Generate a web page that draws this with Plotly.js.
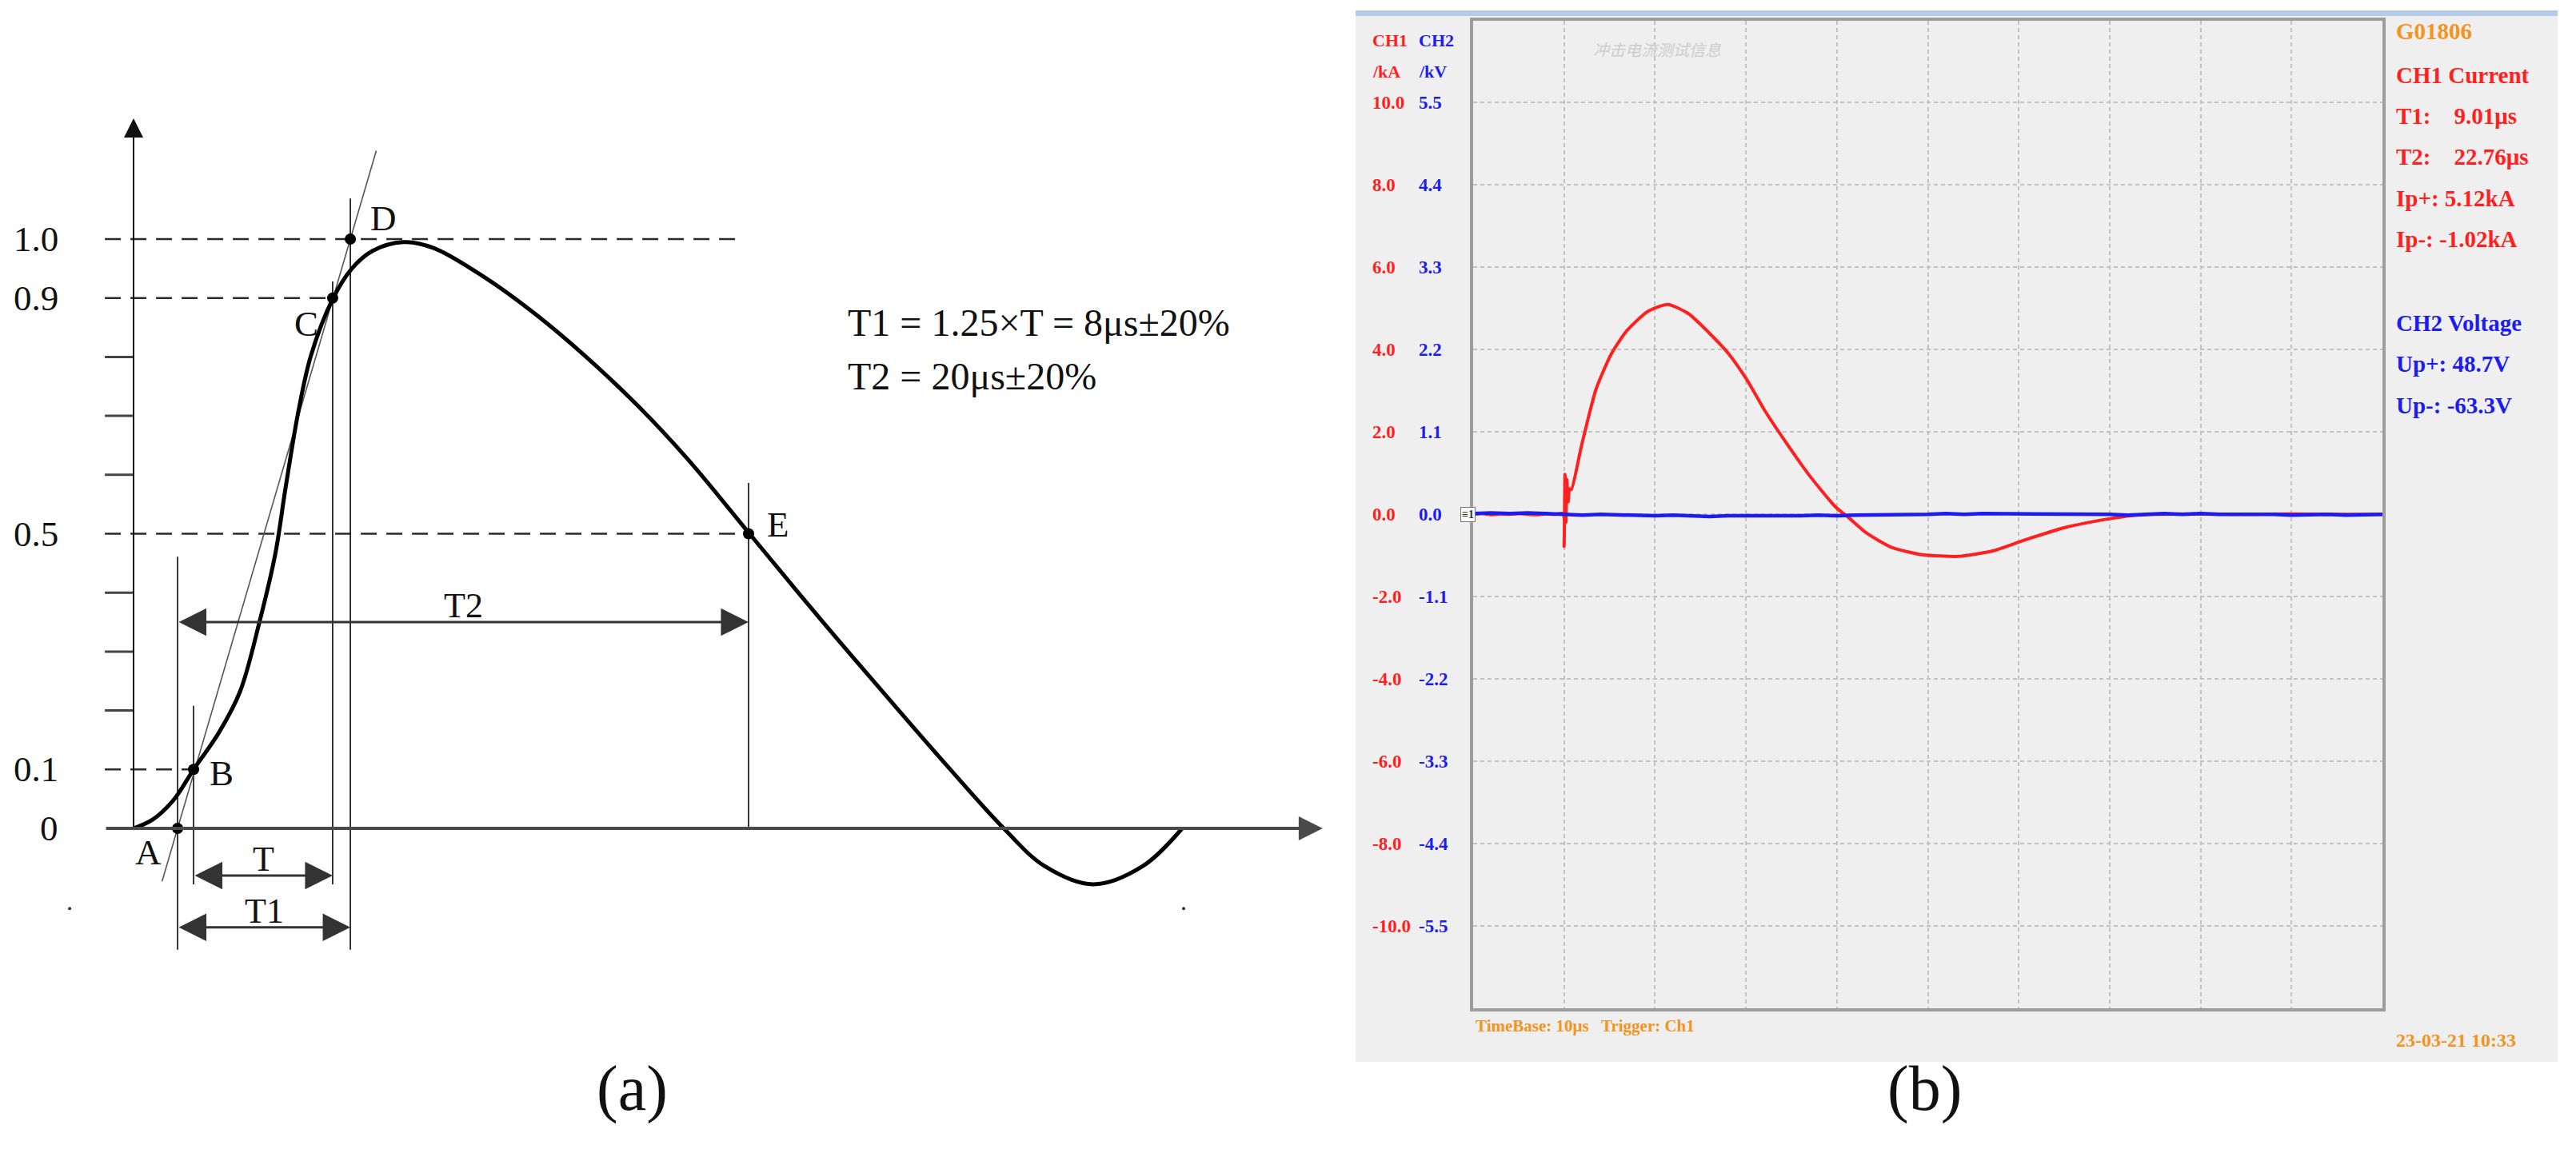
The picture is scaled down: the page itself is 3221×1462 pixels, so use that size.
<!DOCTYPE html>
<html><head><meta charset="utf-8">
<script src="https://cdn.plot.ly/plotly-3.0.1.min.js"></script>
<style>html,body{margin:0;padding:0;background:#fff}#chart{width:3221px;height:1462px}</style>
</head><body><div id="chart"></div>
<script>
// ---------- Panel (a): normalised impulse current waveform ----------
const waveT = [0,0.89,1.85,2.78,3.96,4.93,5.85,6.56,7.04,7.63,8.22,9.22,10.11,11.07,12.48,13.89,16.26,18.63,20.96,23.33,25.7,28.48,30.85,32.74,34.78,37.63,40.3,42.19,44.44,46.74,48.56];
const waveV = [0,0.015,0.048,0.1,0.163,0.232,0.353,0.465,0.578,0.707,0.803,0.898,0.95,0.98,0.995,0.985,0.935,0.872,0.8,0.718,0.625,0.502,0.397,0.315,0.228,0.108,0,-0.064,-0.095,-0.064,0];
const pointNames = ['A','B','C','D','E'];
const pointT = [2.04,2.78,9.22,10.04,28.48];
const pointV = [0,0.1,0.9,1.0,0.5];
const levelLabels = ['0','0.1','0.5','0.9','1.0'];
const levelValues = [0,0.1,0.5,0.9,1.0];
const dashedLevels = [1.0,0.9,0.5,0.1];
const dashedEndT = [28.19,9.22,28.48,2.70];
const minorTickValues = [0.2,0.3,0.4,0.6,0.7,0.8];
const tangentT = [1.32,11.24];
const tangentV = [-0.09,1.15];
const guideTop = [0.461,0.208,0.928,1.069,0.586];
const guideBottom = [-0.206,-0.095,-0.095,-0.206,0];
const dimNames = ['T2','T','T1'];
const dimFromT = [2.04,2.78,2.04];
const dimToT = [28.48,9.22,10.04];
const dimLevel = [0.35,-0.08,-0.168];
const strayT = [-2.96,48.63];
const strayV = [-0.136,-0.136];
const formulaLines = ['T1 = 1.25×T = 8μs±20%','T2 = 20μs±20%'];

// ---------- Panel (b): oscilloscope record ----------
const timeUs = [0,1,2,3,4,5,6,7,8,9,9.9,10.0,10.1,10.2,10.3,10.45,10.6,10.8,11.9,13.5,15.2,16.9,19.15,21.4,23.65,25.9,28.1,30.1,32.05,34.3,37.1,39.9,41.3,43.3,46.1,49.4,53.4,57.3,60.7,65.1,70.2,72.5,75,80,85,90,95,100];
const currentKA = [0,0.02,-0.01,0.01,0,0.02,0,-0.01,0.01,0,0.02,-0.78,0.97,-0.2,0.85,0.3,0.62,0.6,1.65,3.03,3.9,4.46,4.92,5.1,4.88,4.42,3.9,3.27,2.53,1.78,0.91,0.17,-0.08,-0.46,-0.81,-0.98,-1.02,-0.88,-0.62,-0.32,-0.1,-0.03,0,0.01,0,0.01,0,0];
const voltTimeUs = [0,2,4,6,8,10,12,14,16,18,20,22,24,26,28,30,32,34,36,38,40,42,44,46,48,50,52,54,56,58,60,62,64,66,68,70,72,74,76,78,80,82,84,86,88,90,92,94,96,98,100];
const voltageKV = [0.01,0.02,0.01,0.02,0.01,0,-0.01,0,-0.01,-0.02,-0.02,-0.01,-0.02,-0.03,-0.02,-0.02,-0.03,-0.02,-0.02,-0.01,-0.02,-0.01,-0.01,0,-0.01,0,0.01,0,0.01,0.01,0,0.01,0,0.01,0,0,-0.01,0,0.01,0,0.01,0,0,0.01,0,-0.01,0,0,-0.01,0,0];
const currentTickVals = [10,8,6,4,2,0,-2,-4,-6,-8,-10];
const currentTickText = ['10.0','8.0','6.0','4.0','2.0','0.0','-2.0','-4.0','-6.0','-8.0','-10.0'];
const voltageTickText = ['5.5','4.4','3.3','2.2','1.1','0.0','-1.1','-2.2','-3.3','-4.4','-5.5'];
const channelHeads = [['CH1','CH2'],['/kA','/kV']];
const readoutText = ['G01806','CH1 Current','T1:\u00a0\u00a0\u00a0 9.01μs','T2:\u00a0\u00a0\u00a0 22.76μs','Ip+: 5.12kA','Ip-: -1.02kA','CH2 Voltage','Up+: 48.7V','Up-: -63.3V'];
const readoutKind = ['id','ch1','ch1','ch1','ch1','ch1','ch2','ch2','ch2'];
const footerLeft = 'TimeBase: 10μs\u00a0\u00a0 Trigger: Ch1';
const footerRight = '23-03-21 10:33';
const watermark = '冲击电流测试信息';

// ---------- styling ----------
const W = 3221, H = 1462;
const SERIF = 'Liberation Serif, Times New Roman, serif';
const RED = '#ff1f1f', BLUE = '#1c1cf0', ORANGE = '#f39320';
const px = v => v / W, py = v => 1 - v / H;

const traces = [];
{
  const x = [], y = [];
  dashedLevels.forEach((v, i) => { x.push(-1.33, dashedEndT[i], null); y.push(v, v, null); });
  traces.push({x, y, xaxis:'x', yaxis:'y', mode:'lines', line:{color:'#2a2a2a', width:2.5, dash:'20px,12px'}, hoverinfo:'skip'});
}
{
  const x = [], y = [];
  minorTickValues.forEach(v => { x.push(-1.33, 0, null); y.push(v, v, null); });
  traces.push({x, y, xaxis:'x', yaxis:'y', mode:'lines', line:{color:'#444', width:3}, hoverinfo:'skip'});
}
{
  const x = [], y = [];
  pointT.forEach((t, i) => { x.push(t, t, null); y.push(guideBottom[i], guideTop[i], null); });
  traces.push({x, y, xaxis:'x', yaxis:'y', mode:'lines', line:{color:'#222', width:1.8}, hoverinfo:'skip'});
}
traces.push({x:tangentT, y:tangentV, xaxis:'x', yaxis:'y', mode:'lines', line:{color:'#555', width:1.6}, hoverinfo:'skip'});
traces.push({x:waveT, y:waveV, xaxis:'x', yaxis:'y', mode:'lines', line:{color:'#000', width:5, shape:'spline', smoothing:1}, hoverinfo:'skip'});
traces.push({x:pointT, y:pointV, xaxis:'x', yaxis:'y', mode:'markers', marker:{color:'#000', size:14}, hoverinfo:'skip'});
traces.push({x:strayT, y:strayV, xaxis:'x', yaxis:'y', mode:'markers', marker:{color:'#333', size:4}, hoverinfo:'skip'});

traces.push({x:timeUs, y:currentKA, xaxis:'x2', yaxis:'y2', mode:'lines', line:{color:RED, width:4, shape:'spline', smoothing:0.6}, hoverinfo:'skip'});
traces.push({x:voltTimeUs, y:voltageKV, xaxis:'x2', yaxis:'y3', mode:'lines', line:{color:BLUE, width:4.5}, hoverinfo:'skip'});

const ann = [];
ann.push({xref:'x', yref:'y', axref:'x', ayref:'y', x:0, y:1.205, ax:0, ay:0, text:'', showarrow:true, arrowhead:2, arrowsize:2.4, arrowwidth:2, arrowcolor:'#111', standoff:0});
ann.push({xref:'x', yref:'y', axref:'x', ayref:'y', x:55.07, y:0, ax:-1.33, ay:0, text:'', showarrow:true, arrowhead:2, arrowsize:1.5, arrowwidth:4, arrowcolor:'#4a4a4a', standoff:0});
levelLabels.forEach((t, i) => ann.push({xref:'x', yref:'y', x:-3.41, y:levelValues[i], xanchor:'right', yanchor:'middle', text:t, showarrow:false, font:{family:SERIF, size:45, color:'#111'}}));
const ptShift = {A:[-37,-30], B:[35,-5], C:[-33,-32], D:[41,26], E:[37,12]};
pointNames.forEach((n, i) => ann.push({xref:'x', yref:'y', x:pointT[i], y:pointV[i], xshift:ptShift[n][0], yshift:ptShift[n][1], text:n, showarrow:false, font:{family:SERIF, size:45, color:'#111'}}));
dimNames.forEach((n, i) => {
  ann.push({xref:'x', yref:'y', axref:'x', ayref:'y', x:dimToT[i], y:dimLevel[i], ax:dimFromT[i], ay:dimLevel[i], text:'', showarrow:true, arrowhead:2, arrowside:'end+start', arrowsize:2.3, arrowwidth:3, arrowcolor:'#333', standoff:0, startstandoff:0});
  ann.push({xref:'x', yref:'y', x:(dimFromT[i] + dimToT[i]) / 2, y:dimLevel[i], yanchor:'bottom', yshift:-6, text:n, showarrow:false, font:{family:SERIF, size:44, color:'#111'}});
});
formulaLines.forEach((t, i) => ann.push({xref:'paper', yref:'paper', x:px(1058), y:py(404 + i * 66.5), xanchor:'left', yanchor:'middle', text:t, showarrow:false, font:{family:SERIF, size:48, color:'#111'}}));
ann.push({xref:'paper', yref:'paper', x:px(744), y:py(1408), text:'(a)', showarrow:false, font:{family:SERIF, size:80, color:'#111'}});
ann.push({xref:'paper', yref:'paper', x:px(2455), y:py(1408), text:'(b)', showarrow:false, font:{family:SERIF, size:80, color:'#111'}});

const bold = {family:SERIF, weight:'bold'};
ann.push({xref:'paper', yref:'paper', x:px(1714), y:py(36), xanchor:'left', text:channelHeads[0][0], showarrow:false, font:{...bold, size:22, color:RED}});
ann.push({xref:'paper', yref:'paper', x:px(1772), y:py(36), xanchor:'left', text:channelHeads[0][1], showarrow:false, font:{...bold, size:22, color:BLUE}});
ann.push({xref:'paper', yref:'paper', x:px(1714), y:py(75), xanchor:'left', text:channelHeads[1][0], showarrow:false, font:{...bold, size:22, color:RED}});
ann.push({xref:'paper', yref:'paper', x:px(1772), y:py(75), xanchor:'left', text:channelHeads[1][1], showarrow:false, font:{...bold, size:22, color:BLUE}});
currentTickVals.forEach((v, i) => {
  ann.push({xref:'paper', yref:'y2', x:px(1714), y:v, xanchor:'left', yanchor:'middle', text:currentTickText[i], showarrow:false, font:{...bold, size:23, color:RED}});
  ann.push({xref:'paper', yref:'y2', x:px(1772), y:v, xanchor:'left', yanchor:'middle', text:voltageTickText[i], showarrow:false, font:{...bold, size:23, color:BLUE}});
});
ann.push({xref:'paper', yref:'y2', x:px(1835), y:0, xanchor:'center', yanchor:'middle', text:'≡1', showarrow:false, bgcolor:'#fafafa', bordercolor:'#777', borderwidth:1, borderpad:1, font:{...bold, size:14, color:'#333'}});
const readY = [39,94,145,196,248,299,404,455,507];
const kindColor = {id:ORANGE, ch1:RED, ch2:BLUE};
readoutText.forEach((t, i) => ann.push({xref:'paper', yref:'paper', x:px(2994), y:py(readY[i]), xanchor:'left', yanchor:'middle', text:t, showarrow:false, font:{...bold, size:29, color:kindColor[readoutKind[i]]}}));
ann.push({xref:'paper', yref:'paper', x:px(1843), y:py(1283), xanchor:'left', yanchor:'middle', text:footerLeft, showarrow:false, font:{...bold, size:21, color:ORANGE}});
ann.push({xref:'paper', yref:'paper', x:px(2994), y:py(1301), xanchor:'left', yanchor:'middle', text:footerRight, showarrow:false, font:{...bold, size:24, color:ORANGE}});
ann.push({xref:'paper', yref:'paper', x:px(1990), y:py(62), xanchor:'left', yanchor:'middle', text:watermark, showarrow:false, font:{family:'Noto Sans CJK SC', size:20, color:'#cdcdcd', style:'italic'}});

const shapes = [
  {type:'rect', xref:'paper', yref:'paper', x0:px(1695), x1:px(3198), y0:py(1328), y1:py(19), fillcolor:'#efefef', line:{width:0}, layer:'below'},
  {type:'rect', xref:'paper', yref:'paper', x0:px(1695), x1:px(3198), y0:py(20), y1:py(13), fillcolor:'#b3cce9', line:{width:0}, layer:'below'}
];

const hidden = {showgrid:false, zeroline:false, showticklabels:false, ticks:'', showline:false, fixedrange:true};
const layout = {
  width:W, height:H, margin:{l:0, r:0, t:0, b:0}, paper_bgcolor:'#ffffff', plot_bgcolor:'rgba(0,0,0,0)',
  showlegend:false,
  xaxis:{...hidden, domain:[0, 0.53], range:[-167/27, (0.53 * W - 167) / 27], autorange:false},
  yaxis:{...hidden, domain:[0, 1], range:[-0.57802, 1.40570], autorange:false},
  xaxis2:{domain:[px(1842), px(2979)], anchor:'y2', range:[0, 100], autorange:false, dtick:10, tick0:0,
          showgrid:true, gridcolor:'#c2c2c2', gridwidth:2, griddash:'5px,4px', zeroline:false, showticklabels:false, ticks:'',
          showline:true, mirror:true, linecolor:'#9d9d9d', linewidth:4},
  yaxis2:{domain:[py(1261), py(25.5)], anchor:'x2', range:[-12, 12], autorange:false, dtick:2, tick0:0,
          showgrid:true, gridcolor:'#c2c2c2', gridwidth:2, griddash:'5px,4px', zeroline:false, showticklabels:false, ticks:'',
          showline:true, mirror:true, linecolor:'#9d9d9d', linewidth:4},
  yaxis3:{overlaying:'y2', anchor:'x2', range:[-6.6, 6.6], autorange:false, showgrid:false, zeroline:false, showticklabels:false, ticks:'', showline:false},
  annotations:ann, shapes:shapes
};
Plotly.newPlot('chart', traces, layout, {staticPlot:true, displayModeBar:false});
</script></body></html>
